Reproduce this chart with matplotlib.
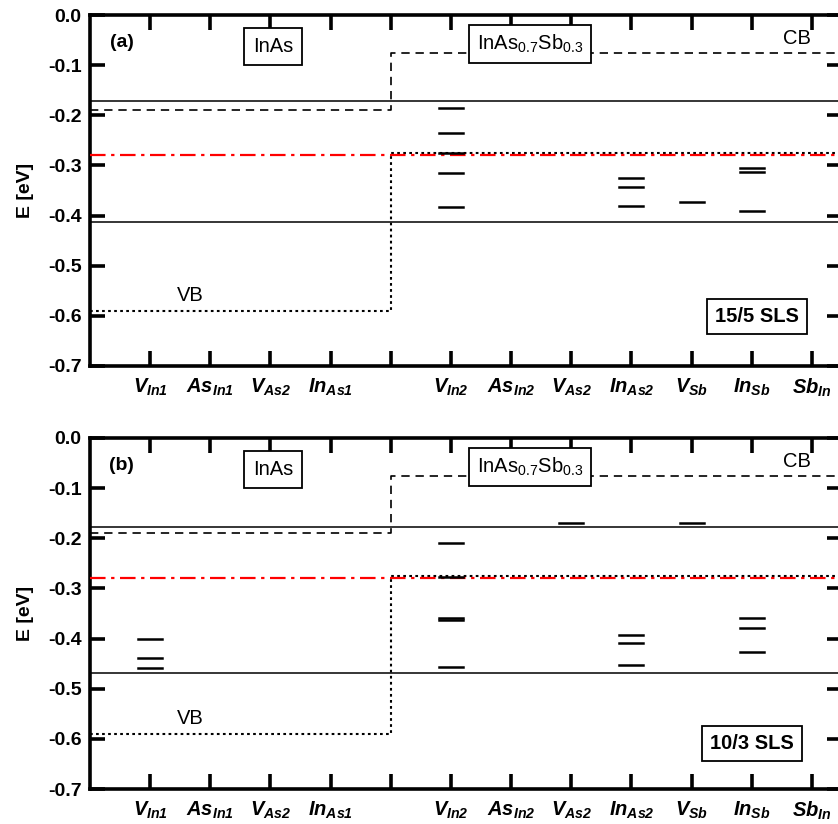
import matplotlib
matplotlib.use("Agg")
import matplotlib.pyplot as plt

plt.rcParams['font.family'] = ['Liberation Sans', 'DejaVu Sans']
plt.rcParams['mathtext.fontset'] = 'custom'
plt.rcParams['mathtext.rm'] = 'Liberation Sans:italic:bold'
plt.rcParams['mathtext.it'] = 'Liberation Sans:italic:bold'
plt.rcParams['mathtext.bf'] = 'Liberation Sans:bold'
plt.rcParams['mathtext.sf'] = 'Liberation Sans'

# ---- data ----
tick_positions = [1, 2, 3, 4, 5, 6, 7, 8, 9, 10, 11, 12]
tick_labels = [r'$V_{In1}$', r'$As_{In1}$', r'$V_{As2}$', r'$In_{As1}$', '',
               r'$V_{In2}$', r'$As_{In2}$', r'$V_{As2}$', r'$In_{As2}$',
               r'$V_{Sb}$', r'$In_{Sb}$', r'$Sb_{In}$']
boundary_x = 5
x_max = 12.5

cb_inas = -0.190
cb_alloy = -0.076
vb_inas = -0.590
vb_alloy = -0.276
fermi = -0.280

solid_a = [-0.171, -0.412]
solid_b = [-0.178, -0.468]

# defect levels: position -> energies
levels_a_pos = [6, 9, 10, 11]
levels_a_E = [[-0.185, -0.235, -0.276, -0.315, -0.382],
              [-0.326, -0.344, -0.380],
              [-0.372],
              [-0.305, -0.314, -0.391]]

levels_b_pos = [1, 6, 8, 9, 10, 11]
levels_b_E = [[-0.401, -0.439, -0.459],
              [-0.210, -0.277, -0.358, -0.363, -0.457],
              [-0.169],
              [-0.393, -0.408, -0.453],
              [-0.170],
              [-0.358, -0.378, -0.427]]

panel_tags = ['(a)', '(b)']
sls_labels = ['15/5 SLS', '10/3 SLS']

W, H = 838, 824
fig = plt.figure(figsize=(W / 100, H / 100), dpi=100)

def make_axes(top_px, bot_px):
    left = 90 / W
    right = 842 / W
    return fig.add_axes([left, 1 - bot_px / H, right - left, (bot_px - top_px) / H])

axes = [make_axes(15, 366), make_axes(438, 789)]
solids = [solid_a, solid_b]
lev_pos = [levels_a_pos, levels_b_pos]
lev_E = [levels_a_E, levels_b_E]
sls_pos = [(11.09, -0.601), (11.0, -0.609)]

for i, ax in enumerate(axes):
    ax.set_xlim(0, x_max)
    ax.set_ylim(-0.7, 0.0)
    # band edges
    ax.plot([0, boundary_x, boundary_x, x_max], [cb_inas, cb_inas, cb_alloy, cb_alloy],
            color='black', lw=1.2, ls=(0, (5, 3.5)))
    ax.plot([0, boundary_x, boundary_x, x_max], [vb_inas, vb_inas, vb_alloy, vb_alloy],
            color='black', lw=1.5, ls=(0, (1.3, 1.6)))
    for s in solids[i]:
        ax.axhline(s, color='black', lw=1.1)
    ax.axhline(fermi, color='red', lw=1.6, ls=(0, (7, 2.5, 1.5, 2.5)), zorder=3)
    # defect levels
    for p, Es in zip(lev_pos[i], lev_E[i]):
        for e in Es:
            ax.plot([p - 0.2, p + 0.2], [e, e], color='black', lw=1.8, zorder=4)

    ax.set_xticks(tick_positions)
    ax.set_xticklabels(tick_labels, fontsize=14.5)
    ax.set_yticks([0.0, -0.1, -0.2, -0.3, -0.4, -0.5, -0.6, -0.7])
    ax.set_yticklabels(['0.0', '-0.1', '-0.2', '-0.3', '-0.4', '-0.5', '-0.6', '-0.7'],
                       fontsize=14, fontweight='bold')
    ax.tick_params(direction='in', top=True, right=True, length=11, width=2.6, pad=6)
    ax.tick_params(axis='x', pad=8)
    for sp in ax.spines.values():
        sp.set_linewidth(2.6)
    ax.set_ylabel('E [eV]', fontsize=14, fontweight='bold', labelpad=10)

    ax.text(0.53, -0.054, panel_tags[i], fontsize=14, fontweight='bold', ha='center', va='center')
    ax.text(3.04, -0.062, 'InAs', fontsize=14.5, ha='center', va='center',
            bbox=dict(boxstyle='square,pad=0.45', fc='white', ec='black', lw=1.3), zorder=5)
    ax.text(7.31, -0.058, r'InAs$_{\mathsf{0.7}}$Sb$_{\mathsf{0.3}}$', fontsize=14.5,
            ha='center', va='center',
            bbox=dict(boxstyle='square,pad=0.4', fc='white', ec='black', lw=1.3), zorder=5)
    ax.text(11.75, -0.046, 'CB', fontsize=14.5, ha='center', va='center')
    ax.text(1.66, -0.560, 'VB', fontsize=14.5, ha='center', va='center')
    ax.text(sls_pos[i][0], sls_pos[i][1], sls_labels[i], fontsize=14.5, fontweight='bold',
            ha='center', va='center',
            bbox=dict(boxstyle='square,pad=0.4', fc='white', ec='black', lw=1.3), zorder=5)

fig.savefig('out.png', dpi=100)
